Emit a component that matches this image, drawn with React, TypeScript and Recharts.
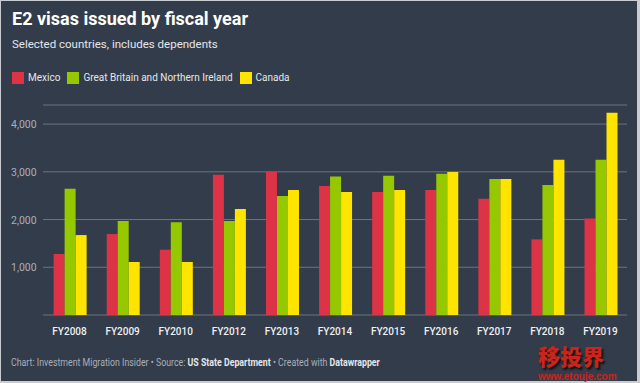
import { BarChart, Bar, XAxis, YAxis, CartesianGrid } from 'recharts';

const years = ['FY2008', 'FY2009', 'FY2010', 'FY2012', 'FY2013', 'FY2014', 'FY2015', 'FY2016', 'FY2017', 'FY2018', 'FY2019'];
const mexico = [1277, 1696, 1368, 2939, 2995, 2702, 2576, 2618, 2436, 1585, 2024];
const greatBritain = [2646, 1969, 1941, 1969, 2492, 2904, 2918, 2960, 2848, 2723, 3253];
const canada = [1675, 1110, 1110, 2220, 2618, 2576, 2618, 2995, 2848, 3253, 4237];
const yTicks = [0, 1000, 2000, 3000, 4000];

const SERIES = [
  { key: 'mexico', name: 'Mexico', color: '#dc3446' },
  { key: 'gb', name: 'Great Britain and Northern Ireland', color: '#96c800' },
  { key: 'canada', name: 'Canada', color: '#ffe400' },
];

const data = years.map((year, i) => ({
  year,
  mexico: mexico[i],
  gb: greatBritain[i],
  canada: canada[i],
}));

const FONT = 'Roboto, "Noto Sans", sans-serif';

function YTick({ y, payload }: any) {
  if (payload.value === 0) return null;
  return (
    <text x={11} y={y} dy={4} fill="#a9afb8" fontSize={10.5} fontFamily={FONT} textAnchor="start">
      {payload.value.toLocaleString('en-US')}
    </text>
  );
}

export default function App() {
  return (
    <div style={{ position: 'fixed', left: 0, top: 0, width: 640, height: 383, background: '#c9cdd2', fontFamily: FONT }}>
      <div style={{ position: 'absolute', left: 1, top: 1, width: 636, height: 380, background: '#333c4b' }} />

      {/* header */}
      <div style={{ position: 'absolute', left: 12, top: 7, color: '#ffffff', fontSize: 18, fontWeight: 700, lineHeight: '24px' }}>
        E2 visas issued by fiscal year
      </div>
      <div style={{ position: 'absolute', left: 12, top: 37, color: '#e4e6ea', fontSize: 11.5, lineHeight: '15px' }}>
        Selected countries, includes dependents
      </div>
      <div style={{ position: 'absolute', left: 12, top: 71, display: 'flex', alignItems: 'center', color: '#e4e6ea', fontSize: 10, lineHeight: '13px' }}>
        {SERIES.map((s) => (
          <div key={s.key} style={{ display: 'flex', alignItems: 'center', marginRight: 7 }}>
            <div style={{ width: 12, height: 12, background: s.color, marginRight: 4 }} />
            <span>{s.name}</span>
          </div>
        ))}
      </div>

      <div style={{ position: 'absolute', left: 0, top: 0 }}>
        <BarChart
          width={640}
          height={383}
          data={data}
          margin={{ top: 105, right: 13, bottom: 38, left: 0 }}
          barCategoryGap="20%"
          barGap={0}
        >
          <CartesianGrid vertical={false} stroke="#6c7482" strokeWidth={1} />
          <XAxis
            dataKey="year"
            axisLine={false}
            tickLine={false}
            height={30}
            tick={{ fill: '#eef0f2', fontSize: 10, fontWeight: 500, fontFamily: FONT }}
            tickMargin={7}
          />
          <YAxis
            width={43}
            domain={[0, 4400]}
            ticks={yTicks}
            axisLine={false}
            tickLine={false}
            tick={<YTick />}
          />
          {SERIES.map((s) => (
            <Bar key={s.key} dataKey={s.key} name={s.name} fill={s.color} isAnimationActive={false} />
          ))}
        </BarChart>
      </div>

      {/* footer */}
      <div style={{ position: 'absolute', left: 11, top: 356, color: '#a9afb8', fontSize: 10, lineHeight: '13px', whiteSpace: 'nowrap', transform: 'scaleX(0.88)', transformOrigin: 'left center' }}>
        Chart: Investment Migration Insider • Source: <b style={{ color: '#e4e6ea' }}>US State Department</b> • Created with <b style={{ color: '#e4e6ea' }}>Datawrapper</b>
      </div>

      {/* watermark */}
      <div style={{ position: 'absolute', left: 538, top: 344, color: '#c8261c', fontSize: 22, fontWeight: 900, lineHeight: '22px', fontFamily: '"Noto Sans CJK SC", sans-serif', textShadow: '2px 2px 2px #111' }}>
        移投界
      </div>
      <div style={{ position: 'absolute', left: 538, top: 372, color: '#c8261c', fontSize: 10, fontWeight: 700, lineHeight: '10px', fontFamily: 'Arial, "Liberation Sans", sans-serif' }}>
        www.etouje.com
      </div>
    </div>
  );
}
